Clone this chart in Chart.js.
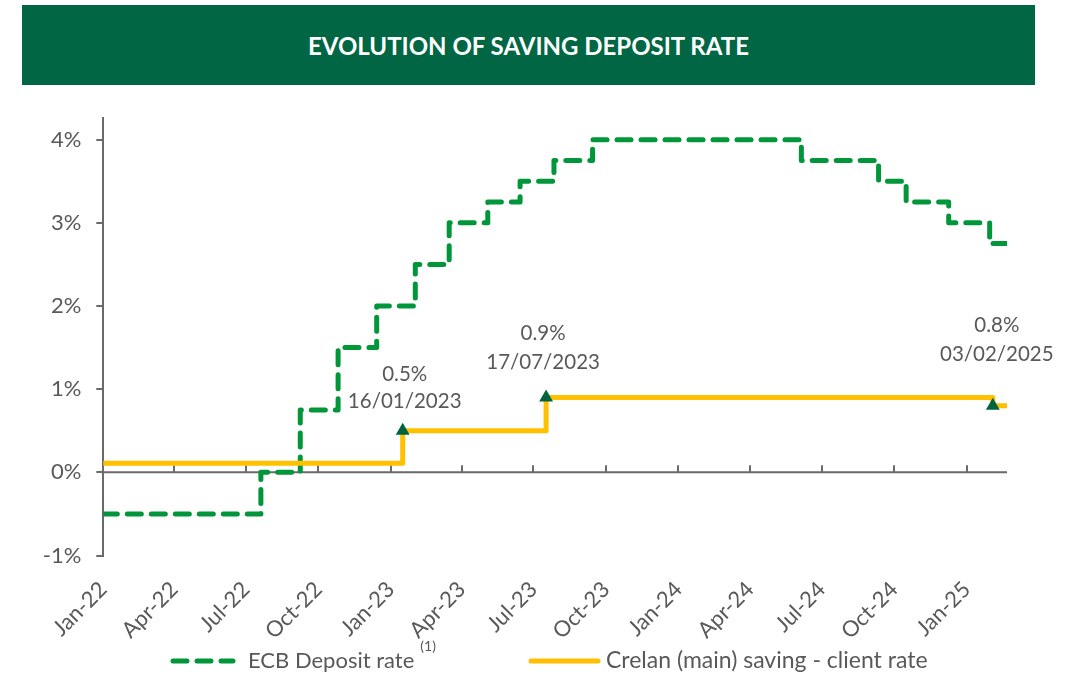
<!DOCTYPE html>
<html>
<head>
<meta charset="utf-8">
<script src="https://cdn.jsdelivr.net/npm/chart.js@4.4.1/dist/chart.umd.min.js"></script>
<style>
  body { margin: 0; background: #fff; }
  #wrap { position: relative; width: 1071px; height: 675px; }
  #banner {
    position: absolute; left: 22px; top: 5px; width: 1013px; height: 80px;
    background: #006643; color: #fff;
    font: bold 24px Lato, sans-serif;
    display: flex; align-items: center; justify-content: center;
  }
  canvas { position: absolute; left: 0; top: 0; }
</style>
</head>
<body>
<div id="wrap">
  <canvas id="rateChart" width="1071" height="675"></canvas>
  <div id="banner">EVOLUTION OF SAVING DEPOSIT RATE</div>
</div>
<script>
// ECB deposit rate: date of each change and the new rate (%)
const ecbDates = ['2022-01-01', '2022-07-20', '2022-09-08', '2022-10-26', '2022-12-14', '2023-02-01',
  '2023-03-16', '2023-05-04', '2023-06-14', '2023-07-27', '2023-09-14', '2024-06-05',
  '2024-09-11', '2024-10-16', '2024-12-09', '2025-01-30', '2025-02-21'];
const ecbRates = [-0.5, 0, 0.75, 1.5, 2.0, 2.5, 3.0, 3.25, 3.5, 3.75, 4.0, 3.75, 3.5, 3.25, 3.0, 2.75, 2.75];

// Crelan (main) saving - client rate
const crelanDates = ['2022-01-01', '2023-01-16', '2023-07-17', '2025-02-03', '2025-02-21'];
const crelanRates = [0.11, 0.5, 0.9, 0.8, 0.8];

// highlighted changes of the Crelan rate
const changeDates = ['2023-01-16', '2023-07-17', '2025-02-03'];
const changeRates = [0.5, 0.9, 0.8];
const changeTexts = [['0.5%', '16/01/2023'], ['0.9%', '17/07/2023'], ['0.8%', '03/02/2025']];

// axis ticks
const tickDates = ['2022-01-01', '2022-04-01', '2022-07-01', '2022-10-01', '2023-01-01', '2023-04-01',
  '2023-07-01', '2023-10-01', '2024-01-01', '2024-04-01', '2024-07-01', '2024-10-01', '2025-01-01'];
const tickLabels = ['Jan-22', 'Apr-22', 'Jul-22', 'Oct-22', 'Jan-23', 'Apr-23', 'Jul-23', 'Oct-23',
  'Jan-24', 'Apr-24', 'Jul-24', 'Oct-24', 'Jan-25'];
const yTicks = [-1, 0, 1, 2, 3, 4];

const startDate = '2022-01-01';
const endDate = '2025-02-21';

// days since the start date (no date adapter available)
function dayOf(s) {
    return (Date.parse(s) - Date.parse(startDate)) / 86400000;
}
function toPoints(dates, values) {
    return dates.map((d, i) => ({ x: dayOf(d), y: values[i] }));
}

const GREEN = '#009639';
const YELLOW = '#FFC000';
const DARK = '#00643E';
const GREY = '#595959';
const AXIS = '#6a6a6a';

Chart.defaults.font.family = 'Lato, sans-serif';
Chart.defaults.color = GREY;

// zero line with small upward tick marks, like the original
const zeroAxis = {
    id: 'zeroAxis',
    beforeDatasetsDraw(chart) {
        const { ctx, chartArea, scales } = chart;
        const y0 = scales.y.getPixelForValue(0);
        ctx.save();
        ctx.strokeStyle = AXIS;
        ctx.lineWidth = 2;
        ctx.beginPath();
        ctx.moveTo(chartArea.left, y0);
        ctx.lineTo(chartArea.right, y0);
        tickDates.forEach(d => {
            const x = Math.round(scales.x.getPixelForValue(dayOf(d)));
            ctx.moveTo(x, y0);
            ctx.lineTo(x, y0 - 7);
        });
        ctx.stroke();
        ctx.restore();
    }
};

// text above each marker
const labelOffsets = [[2, -56, -29], [-3, -64, -35], [4, -80, -51]];
const changeLabels = {
    id: 'changeLabels',
    afterDatasetsDraw(chart) {
        const { ctx, scales } = chart;
        ctx.save();
        ctx.font = '20.5px Lato, sans-serif';
        ctx.fillStyle = GREY;
        ctx.textAlign = 'center';
        ctx.textBaseline = 'middle';
        changeDates.forEach((d, i) => {
            const x = scales.x.getPixelForValue(dayOf(d));
            const y = scales.y.getPixelForValue(changeRates[i]);
            const off = labelOffsets[i];
            ctx.fillText(changeTexts[i][0], x + off[0], y + off[1]);
            ctx.fillText(changeTexts[i][1], x + off[0], y + off[2]);
        });
        ctx.restore();
    }
};

// legend at the bottom, with the (1) footnote mark
const bottomLegend = {
    id: 'bottomLegend',
    afterDraw(chart) {
        const ctx = chart.ctx;
        const y = 661;
        ctx.save();
        ctx.lineCap = 'round';
        ctx.lineWidth = 5;
        ctx.strokeStyle = GREEN;
        ctx.setLineDash([14, 10]);
        ctx.beginPath();
        ctx.moveTo(173, y);
        ctx.lineTo(233, y);
        ctx.stroke();
        ctx.setLineDash([]);
        ctx.strokeStyle = YELLOW;
        ctx.beginPath();
        ctx.moveTo(531, y);
        ctx.lineTo(598, y);
        ctx.stroke();

        ctx.fillStyle = GREY;
        ctx.textBaseline = 'middle';
        ctx.font = '22px Lato, sans-serif';
        ctx.fillText('ECB Deposit rate', 248, y);
        const w = ctx.measureText('ECB Deposit rate').width;
        ctx.font = '14px Lato, sans-serif';
        ctx.fillText('(1)', 248 + w + 6, y - 15);
        ctx.font = '23px Lato, sans-serif';
        ctx.fillText('Crelan (main) saving - client rate', 606, y);
        ctx.restore();
    }
};

const ctx = document.getElementById('rateChart').getContext('2d');

const rateChart = new Chart(ctx, {
    type: 'line',
    data: {
        datasets: [
            {
                label: 'Crelan rate change',
                data: toPoints(changeDates, changeRates),
                showLine: false,
                pointStyle: 'triangle',
                pointRadius: 8,
                pointBackgroundColor: DARK,
                pointBorderWidth: 0,
                order: 0
            },
            {
                label: 'Crelan (main) saving - client rate',
                data: toPoints(crelanDates, crelanRates),
                borderColor: YELLOW,
                borderWidth: 5,
                borderCapStyle: 'round',
                borderJoinStyle: 'round',
                stepped: 'before',
                pointRadius: 0,
                order: 1
            },
            {
                label: 'ECB Deposit rate',
                data: toPoints(ecbDates, ecbRates),
                borderColor: GREEN,
                borderWidth: 5,
                borderDash: [14, 10],
                borderCapStyle: 'round',
                borderJoinStyle: 'round',
                stepped: 'before',
                pointRadius: 0,
                order: 2
            }
        ]
    },
    options: {
        responsive: false,
        animation: false,
        events: [],
        layout: {
            padding: { top: 118, right: 64, left: 0, bottom: 0 }
        },
        scales: {
            x: {
                type: 'linear',
                min: 0,
                max: dayOf(endDate),
                border: { display: false },
                grid: { display: false },
                afterBuildTicks: scale => {
                    scale.ticks = tickDates.map(d => ({ value: dayOf(d) }));
                },
                afterFit: scale => { scale.height = 119.5; },
                ticks: {
                    autoSkip: false,
                    minRotation: 45,
                    maxRotation: 45,
                    padding: 13,
                    font: { size: 22 },
                    callback: (v, i) => tickLabels[i]
                }
            },
            y: {
                min: -1,
                max: 4.26,
                border: { display: true, color: AXIS, width: 2 },
                grid: {
                    drawOnChartArea: false,
                    drawTicks: true,
                    tickLength: 7,
                    color: AXIS,
                    lineWidth: 2
                },
                afterBuildTicks: scale => {
                    scale.ticks = yTicks.map(v => ({ value: v }));
                },
                afterFit: scale => { scale.width = 103.3; },
                ticks: {
                    padding: 15,
                    font: { size: 22 },
                    callback: v => v + '%'
                }
            }
        },
        plugins: {
            legend: { display: false },
            tooltip: { enabled: false }
        }
    },
    plugins: [zeroAxis, changeLabels, bottomLegend]
});
</script>
</body>
</html>
